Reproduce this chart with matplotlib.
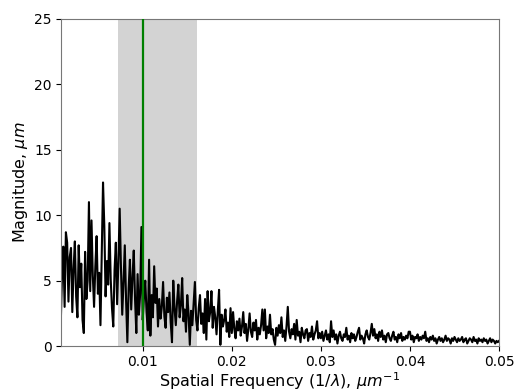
import numpy as np
import matplotlib
matplotlib.use("Agg")
import matplotlib.pyplot as plt

# Magnitude values (um), split by frequency segment
mag_a = [1.8, 5.5, 7.6, 3.0, 8.7, 7.9, 3.4, 6.8, 7.5, 2.6, 5.9, 8.0, 3.8, 2.2, 7.7, 4.5,
         6.3, 2.0, 1.0, 7.2, 3.6, 5.0, 11.0, 4.2, 9.6, 5.4, 3.0, 6.1, 8.4, 4.0, 5.6, 1.6,
         6.9, 12.5, 9.2, 3.8, 6.5, 4.7, 9.4, 5.1, 2.9, 1.5, 5.8, 7.9, 3.2, 6.4, 10.5, 6.0,
         2.4, 4.9, 7.7, 3.5, 0.3, 4.4, 6.6, 2.8, 5.2, 7.3, 3.6, 1.0, 5.5, 2.4, 4.0, 9.1]
mag_b = [2.0, 3.8, 5.0, 2.6, 1.2, 6.6, 0.8, 3.9, 2.2, 6.1, 3.3, 4.4, 1.5, 3.6, 2.1, 3.0,
         4.9, 2.3, 1.4, 3.7, 2.6, 4.1, 1.8, 0.3, 5.0, 2.9, 1.6, 3.4, 4.7, 2.2, 3.1, 5.2,
         1.9, 2.8, 1.1, 3.9, 2.5, 0.1, 2.7, 1.6, 3.3, 4.9, 2.0, 1.2, 2.9, 3.9, 1.7, 2.5,
         1.0, 3.6, 0.5, 4.2, 1.9, 2.6, 4.2, 1.4, 3.0, 2.2, 0.9, 2.7, 4.3, 0.1, 2.4, 1.5,
         2.0, 2.8, 1.1, 1.8, 0.7, 2.9]
mag_c = [1.0, 2.6, 1.3, 0.6, 1.9, 1.2, 2.1, 0.8, 1.5, 2.6, 1.0, 1.7, 0.4, 1.3, 2.5, 1.1,
         0.7, 1.8, 1.2, 2.0, 0.5, 1.4, 0.9, 1.6, 2.8, 1.2, 2.8, 0.6, 1.5, 1.0, 2.4, 0.9,
         1.3, 0.5, 0.1, 1.4, 0.8, 1.6, 1.0, 2.2, 0.7, 1.2, 0.4, 1.5, 3.0, 1.1, 0.6, 1.3,
         0.9, 1.7, 0.5, 2.0, 0.8, 1.1, 0.3, 1.4, 0.9, 0.6, 1.2, 1.3, 0.4, 1.0, 0.7, 1.5,
         0.5, 0.9, 1.2, 1.9, 0.6, 1.0]
mag_d = [0.6, 1.1, 0.4, 0.8, 1.2, 0.5, 0.9, 0.3, 1.9, 0.7, 1.2, 0.5, 0.9, 0.2, 0.8, 1.1,
         0.6, 0.4, 0.9, 0.7, 1.4, 0.5, 0.8, 0.3, 1.0, 0.6, 0.9, 0.4, 0.7, 1.1, 1.4, 0.5,
         0.8, 0.6, 0.2, 0.9, 1.2, 0.7, 0.5, 1.0, 1.7, 0.8, 1.3, 0.6, 0.9, 0.4, 1.1, 0.7,
         1.2, 0.5, 0.8, 0.3, 0.9, 1.0, 0.6, 0.4, 0.8, 1.1, 0.5, 0.7, 0.3, 0.9, 0.6, 1.0,
         0.4, 0.7, 0.5, 0.8, 0.6, 1.1]
mag_e = [1.1, 0.5, 0.8, 0.3, 0.7, 0.6, 0.9, 0.4, 0.7, 0.5, 0.8, 0.6, 1.1, 0.4, 0.6, 0.3,
         0.7, 0.5, 0.8, 0.4, 0.6, 0.2, 0.5, 0.7, 0.4, 0.6, 0.3, 0.5, 0.8, 0.4, 0.6, 0.5,
         0.2, 0.6, 0.4, 0.7, 0.5, 0.3, 0.6, 0.4, 0.5, 0.7, 0.3, 0.5, 0.6, 0.2, 0.4, 0.6,
         0.5, 0.3, 0.7, 0.4, 0.5, 0.2, 0.6, 0.4, 0.5, 0.3, 0.6, 0.4, 0.5, 0.2, 0.4, 0.6,
         0.3, 0.5, 0.4, 0.2, 0.4, 0.3, 0.4]

# Frequency segment boundaries (1/um)
seg_edges = [0.0008, 0.01, 0.02, 0.03, 0.04, 0.05]
band_lo, band_hi = 0.0072, 0.0161
peak_freq = 0.01
xticks = [0.01, 0.02, 0.03, 0.04, 0.05]
yticks = [0, 5, 10, 15, 20, 25]

segs = [mag_a, mag_b, mag_c, mag_d, mag_e]
freqs = []
mags = []
for k, s in enumerate(segs):
    last = (k == len(segs) - 1)
    f = np.linspace(seg_edges[k], seg_edges[k + 1], len(s), endpoint=last)
    freqs.append(f)
    mags.append(np.array(s))
freq = np.concatenate(freqs)
mag = np.concatenate(mags)

fig = plt.figure(figsize=(5.15, 3.92), dpi=100)
ax = fig.add_axes([0.118, 0.117, 0.851, 0.835])
ax.axvspan(band_lo, band_hi, color='lightgray', zorder=1, lw=0)
ax.plot(freq, mag, color='black', lw=1.5, zorder=2)
ax.axvline(peak_freq, color='green', lw=1.6, zorder=3)
ax.set_xlim(seg_edges[0], seg_edges[-1])
ax.set_ylim(0, 25)
ax.set_xticks(xticks)
ax.set_xticklabels([f"{t:.2f}" for t in xticks])
ax.set_yticks(yticks)
ax.tick_params(labelsize=10, pad=3)
for sp in ax.spines.values():
    sp.set_color('#777777')
ax.set_xlabel(r'Spatial Frequency (1/$\lambda$), $\mu m^{-1}$', fontsize=11.5, labelpad=1)
ax.set_ylabel(r'Magnitude, $\mu m$', fontsize=11.5, labelpad=3)
fig.savefig('out.png', dpi=100)
